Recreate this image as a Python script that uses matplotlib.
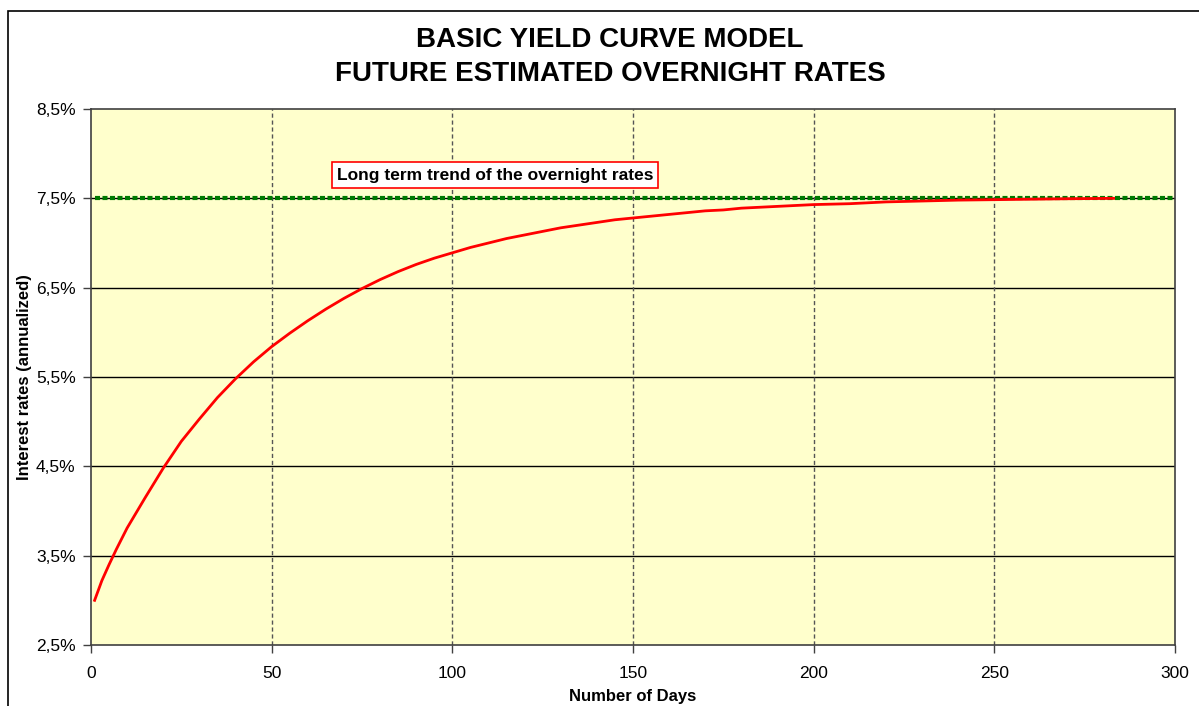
import matplotlib
matplotlib.use("Agg")
import matplotlib.pyplot as plt
from matplotlib.patches import Rectangle
from matplotlib.ticker import FuncFormatter

plt.rcParams['font.family'] = ['Liberation Sans', 'DejaVu Sans']

# Estimated overnight rates (%, annualized) by day
days = [1, 3, 5, 7, 10, 15, 20, 25, 30, 35, 40, 45, 50, 55, 60, 65, 70, 75,
        80, 85, 90, 95, 100, 105, 110, 115, 120, 125, 130, 135, 140, 145,
        150, 155, 160, 165, 170, 175, 180, 185, 190, 195, 200, 210, 220,
        230, 240, 250, 260, 270, 283]
rates = [3.00, 3.22, 3.40, 3.57, 3.81, 4.15, 4.48, 4.78, 5.03, 5.27, 5.48,
         5.67, 5.84, 5.99, 6.13, 6.26, 6.38, 6.49, 6.59, 6.68, 6.76, 6.83,
         6.89, 6.95, 7.00, 7.05, 7.09, 7.13, 7.17, 7.20, 7.23, 7.26, 7.28,
         7.30, 7.32, 7.34, 7.36, 7.37, 7.39, 7.40, 7.41, 7.42, 7.43, 7.44,
         7.46, 7.47, 7.48, 7.485, 7.49, 7.495, 7.50]

# Long-term trend of the overnight rate
trend_days = [1, 300]
trend_rates = [7.5, 7.5]

x_ticks = [0, 50, 100, 150, 200, 250, 300]
y_ticks = [2.5, 3.5, 4.5, 5.5, 6.5, 7.5, 8.5]

W, H = 1199, 706
fig = plt.figure(figsize=(W / 100, H / 100), dpi=100)
fig.patch.set_facecolor('white')

# Outer chart frame
fig.add_artist(Rectangle((8 / W, -0.05), 1.2, 1 - 11 / H + 0.05,
                         transform=fig.transFigure, fill=False,
                         edgecolor='black', linewidth=1.2))

ax = fig.add_axes([91 / W, 1 - 645 / H, (1175 - 91) / W, (645 - 109) / H])
ax.set_facecolor('#ffffcc')

ax.set_xlim(0, 300)
ax.set_ylim(2.5, 8.5)
ax.set_xticks(x_ticks)
ax.set_yticks(y_ticks)
ax.yaxis.set_major_formatter(FuncFormatter(lambda v, p: f"{v:.1f}%".replace('.', ',')))

for v in y_ticks[1:-1]:
    ax.axhline(v, color='black', linewidth=1.0, zorder=1)
for d in x_ticks[1:-1]:
    ax.axvline(d, color='#555555', linewidth=1.0, linestyle=(0, (3, 2)), zorder=1)

ax.plot(trend_days, trend_rates, color='#007a00', linewidth=3.0,
        linestyle=(0, (1.2, 0.6)), zorder=3)
ax.plot(days, rates, color='#ff0000', linewidth=2.0, zorder=4)

for s in ax.spines.values():
    s.set_color('#404040')
    s.set_linewidth(1.2)

ax.tick_params(axis='both', direction='out', length=6, width=1,
               color='#404040', labelsize=12.5, labelcolor='black')
ax.tick_params(axis='x', pad=9)
ax.tick_params(axis='y', pad=5)

ax.set_xlabel('Number of Days', fontsize=12, fontweight='bold')
ax.set_ylabel('Interest rates (annualized)', fontsize=12, fontweight='bold')
ax.xaxis.set_label_coords(0.5, -0.083)
ax.yaxis.set_label_coords(-0.054, 0.5)

ax.text(111.8, 7.76, 'Long term trend of the overnight rates', ha='center',
        va='center', fontsize=12.5, fontweight='bold', zorder=5,
        bbox=dict(boxstyle='square,pad=0.3', facecolor='white',
                  edgecolor='#ff0000', linewidth=1.2))

fig.text(610 / W, 1 - 40 / H, 'BASIC YIELD CURVE MODEL', ha='center',
         va='center', fontsize=20, fontweight='bold')
fig.text(610 / W, 1 - 74 / H, 'FUTURE ESTIMATED OVERNIGHT RATES', ha='center',
         va='center', fontsize=20, fontweight='bold')

fig.savefig('out.png', dpi=100)
